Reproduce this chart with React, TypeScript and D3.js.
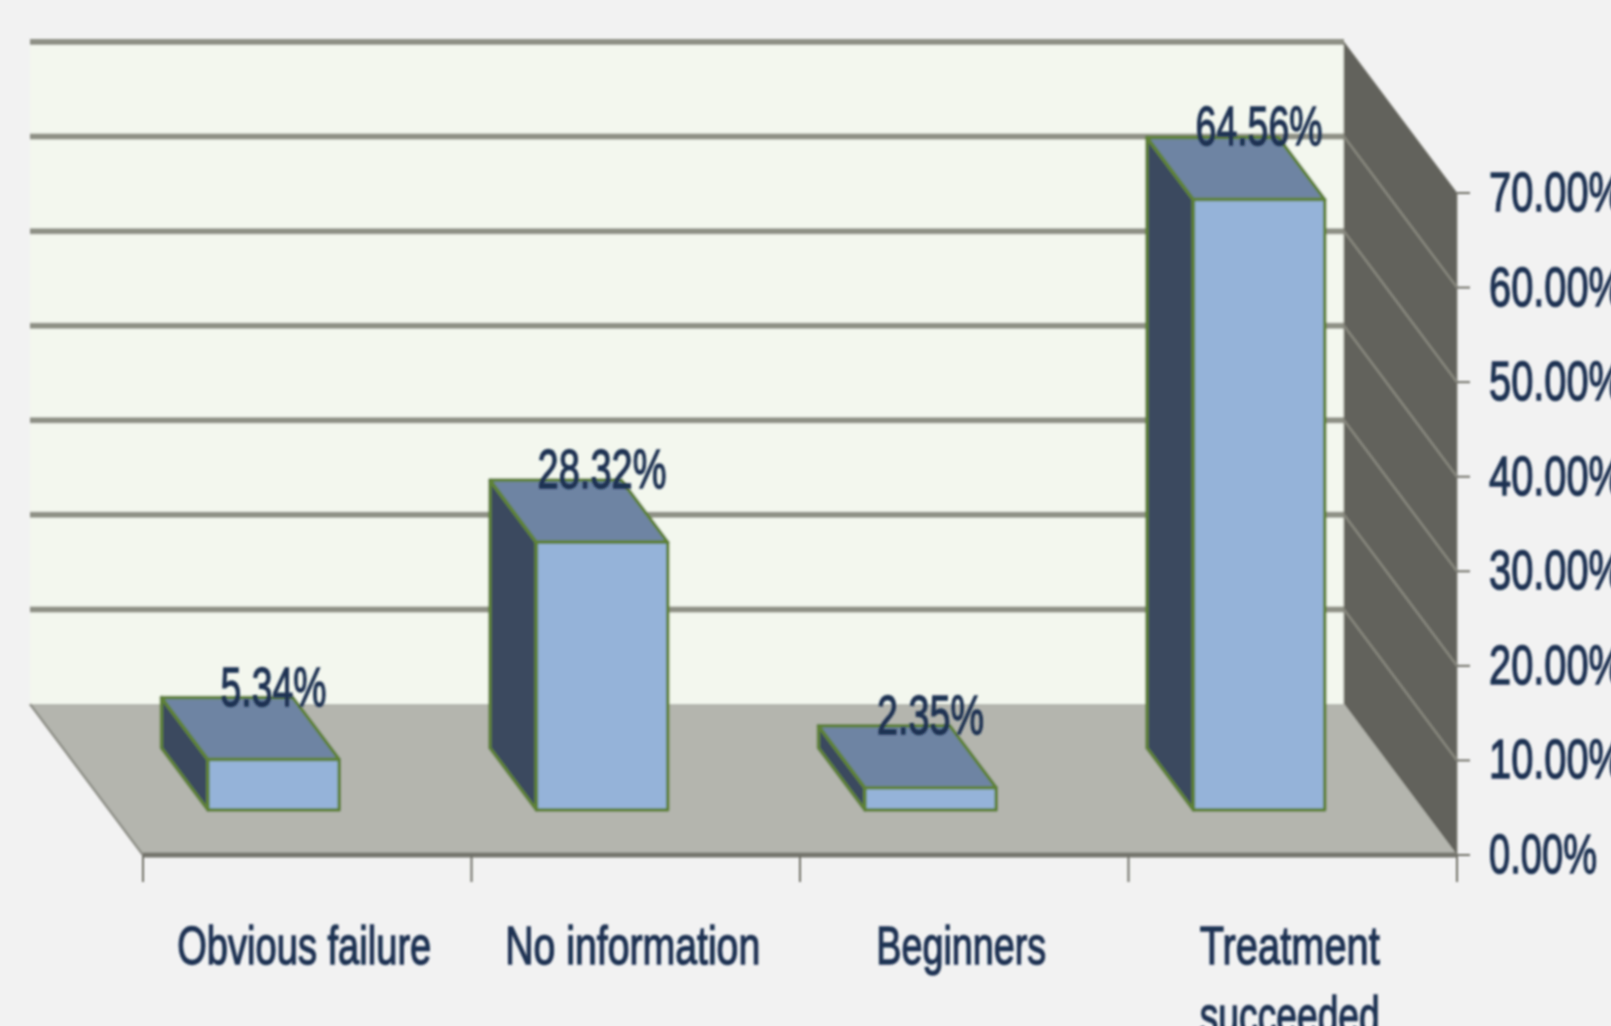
import React from "react";
import * as d3 from "d3";

const categories = [["Obvious failure"], ["No information"], ["Beginners"], ["Treatment", "succeeded"]];
const values = [5.34, 28.32, 2.35, 64.56];
const valueLabels = ["5.34%", "28.32%", "2.35%", "64.56%"];
const valueLabelWidths = [106, 129, 107, 127];
const categoryWidths = [[254], [255], [170], [180, 180]];
const yTicks = [0, 10, 20, 30, 40, 50, 60, 70];

const width = 1611;
const height = 1026;
const depthX = 113;
const depthY = 151;

const textColor = "#1c3152";
const fontFamily = "'Liberation Sans Narrow', 'Liberation Sans', sans-serif";

const x = d3
  .scaleBand<number>()
  .domain(d3.range(categories.length))
  .range([143, 1457])
  .paddingInner(0.6)
  .paddingOuter(0.3);
const y = d3.scaleLinear().domain([0, 70]).range([855, 193]);
const fmt = d3.format(".2%");

// floor depth: 0 is the front edge, 1 the back wall
const project = (px: number, value: number, t: number): [number, number] => [
  px - depthX * t,
  y(value) - depthY * t,
];
const line = d3.line();
const poly = (pts: [number, number][]) => line(pts) + "Z";

const barFront = 0.298;
const barBack = 0.709;
const xMin = 143;
const xMax = 1457;

const App = () => {
  const step = x.step();
  const tickXs = d3.range(categories.length + 1).map((i) => xMin + step * i);

  return (
    <div style={{ position: "fixed", left: 0, top: 0, width, height, overflow: "hidden" }}>
      <svg width={width} height={height} style={{ display: "block" }}>
        <defs>
          <filter id="soft" x="-5%" y="-5%" width="110%" height="110%">
            <feGaussianBlur stdDeviation="1" />
          </filter>
        </defs>
        <rect width={width} height={height} fill="#f2f2f2" />
        <g filter="url(#soft)">
          {/* back wall */}
          <path
            d={poly([project(xMin, 70, 1), project(xMax, 70, 1), project(xMax, 0, 1), project(xMin, 0, 1)])}
            fill="#f3f7ee"
          />
          {yTicks.slice(1).map((t) => (
            <path
              key={t}
              d={line([project(xMin, t, 1), project(xMax, t, 1)]) as string}
              stroke="#8f9186"
              strokeWidth={6}
              fill="none"
            />
          ))}
          {/* side wall */}
          <path
            d={poly([project(xMax, 70, 1), project(xMax, 70, 0), project(xMax, 0, 0), project(xMax, 0, 1)])}
            fill="#62625b"
            stroke="#85857c"
            strokeWidth={1}
          />
          {yTicks.slice(1, -1).map((t) => (
            <path
              key={t}
              d={line([project(xMax, t, 1), project(xMax, t, 0)]) as string}
              stroke="#86867d"
              strokeWidth={2.5}
              fill="none"
            />
          ))}
          {/* floor */}
          <path
            d={poly([project(xMin, 0, 1), project(xMax, 0, 1), project(xMax, 0, 0), project(xMin, 0, 0)])}
            fill="#b4b5ae"
          />
          <path
            d={line([project(xMin, 0, 1), project(xMin, 0, 0)]) as string}
            stroke="#8f9088"
            strokeWidth={2.5}
            fill="none"
          />
          <path
            d={line([project(xMin, 0, 0), project(xMax, 0, 0)]) as string}
            stroke="#74756d"
            strokeWidth={5}
            fill="none"
          />
          {/* axis ticks */}
          {tickXs.map((tx) => (
            <line key={tx} x1={tx} x2={tx} y1={y(0)} y2={y(0) + 27} stroke="#6f7068" strokeWidth={2} />
          ))}
          {yTicks.map((t) => (
            <line key={t} x1={xMax} x2={xMax + 13} y1={y(t)} y2={y(t)} stroke="#6f7068" strokeWidth={2} />
          ))}
          {/* bars */}
          {values.map((v, i) => {
            const l = x(i) as number;
            const r = l + x.bandwidth();
            return (
              <g key={i} stroke="#5f8238" strokeWidth={3.5} strokeLinejoin="round">
                <path
                  d={poly([project(l, 0, barBack), project(l, 0, barFront), project(l, v, barFront), project(l, v, barBack)])}
                  fill="#3a4a5e"
                />
                <path
                  d={poly([project(l, v, barBack), project(r, v, barBack), project(r, v, barFront), project(l, v, barFront)])}
                  fill="#6e84a3"
                />
                <path
                  d={poly([project(l, 0, barFront), project(r, 0, barFront), project(r, v, barFront), project(l, v, barFront)])}
                  fill="#95b3d9"
                />
              </g>
            );
          })}
        </g>
        <g fill={textColor} stroke={textColor} strokeWidth={1.4} fontFamily={fontFamily} filter="url(#soft)">
          {values.map((v, i) => {
            const [fx, fy] = project((x(i) as number) + x.bandwidth() / 2, v, barFront);
            const w = valueLabelWidths[i];
            return (
              <text
                key={i}
                x={fx - w / 2}
                y={fy - 54}
                fontSize={56}
                textLength={w}
                lengthAdjust="spacingAndGlyphs"
              >
                {valueLabels[i]}
              </text>
            );
          })}
          {yTicks.map((t) => (
            <text
              key={t}
              x={1489}
              y={y(t) + 18}
              fontSize={56}
              textLength={t === 0 ? 108 : 135}
              lengthAdjust="spacingAndGlyphs"
            >
              {fmt(t / 100)}
            </text>
          ))}
          {categories.map((rows, i) =>
            rows.map((row, j) => {
              const cx = (x(i) as number) + x.bandwidth() / 2 - 3;
              const w = categoryWidths[i][j];
              return (
                <text
                  key={row}
                  x={cx - w / 2}
                  y={964 + j * 70}
                  fontSize={54}
                  textLength={w}
                  lengthAdjust="spacingAndGlyphs"
                >
                  {row}
                </text>
              );
            })
          )}
        </g>
      </svg>
    </div>
  );
};

export default App;
